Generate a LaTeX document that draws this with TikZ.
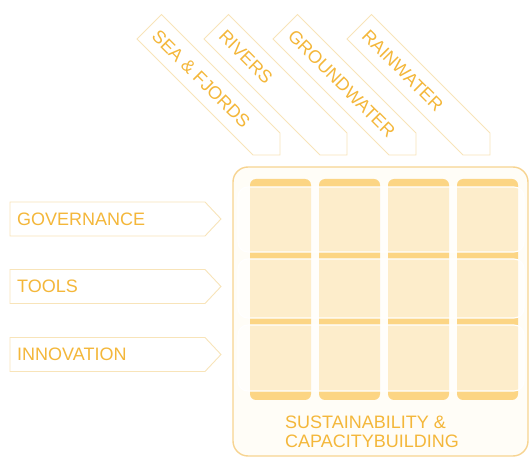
\documentclass[tikz,border=0pt]{standalone}
\usepackage{fontspec}
\setmainfont{Liberation Sans}
\definecolor{txt}{RGB}{244,183,58}
\definecolor{boxline}{RGB}{248,228,185}
\definecolor{outerline}{RGB}{247,212,145}
\definecolor{colfill}{RGB}{252,213,132}
\definecolor{outerfill}{RGB}{255,253,247}
\tikzset{
  lbl/.style={text=txt, font=\fontsize{18}{19}\selectfont, inner sep=0pt},
  arrowbox/.style={draw=boxline, line width=0.9pt, fill=white, line join=miter},
  colbox/.style={fill=colfill, rounded corners=6pt},
  rowbox/.style={draw=white, line width=1.1pt, fill=white, fill opacity=0.58, rounded corners=10pt},
}
\begin{document}
\begin{tikzpicture}[x=1pt,y=-1pt]
\useasboundingbox (0,0) rectangle (531,457);
% outer frame
\draw[draw=outerline, line width=1.4pt, fill=outerfill, rounded corners=15pt] (233,167) rectangle (528,456);
% columns
\foreach \cx in {250,319,388,457}{
  \fill[colbox] (\cx,179) rectangle ++(61,221);
}
% rows
\draw[rowbox] (238,187) rectangle (524,252);
\draw[rowbox] (238,259) rectangle (524,318);
\draw[rowbox] (238,325) rectangle (524,391);
% diagonal bands
\foreach \dx/\name/\lab in {0/sea/SEA \& FJORDS, 67/riv/RIVERS, 136/gw/GROUNDWATER, 210/rain/RAINWATER}{
  \draw[arrowbox] (137+\dx,39) -- (253+\dx,155) -- (280+\dx,155) -- (280+\dx,133) -- (161.5+\dx,14.5) -- cycle;
  \node[lbl, rotate=-45, anchor=west] (\name) at (155+\dx,33) {\lab};
}
% horizontal arrows
\foreach \cy/\name/\lab in {219/gov/GOVERNANCE, 286.5/tools/TOOLS, 354.5/innov/INNOVATION}{
  \draw[arrowbox] (10,\cy-17) -- (205,\cy-17) -- (221,\cy) -- (205,\cy+17) -- (10,\cy+17) -- cycle;
  \node[lbl, anchor=west] (\name) at (17,\cy) {\lab};
}
% bottom label
\node[lbl, anchor=base west] (sus) at (285,429) {SUSTAINABILITY \&};
\node[lbl, anchor=base west] (cap) at (285,448) {CAPACITYBUILDING};
\end{tikzpicture}
\end{document}
